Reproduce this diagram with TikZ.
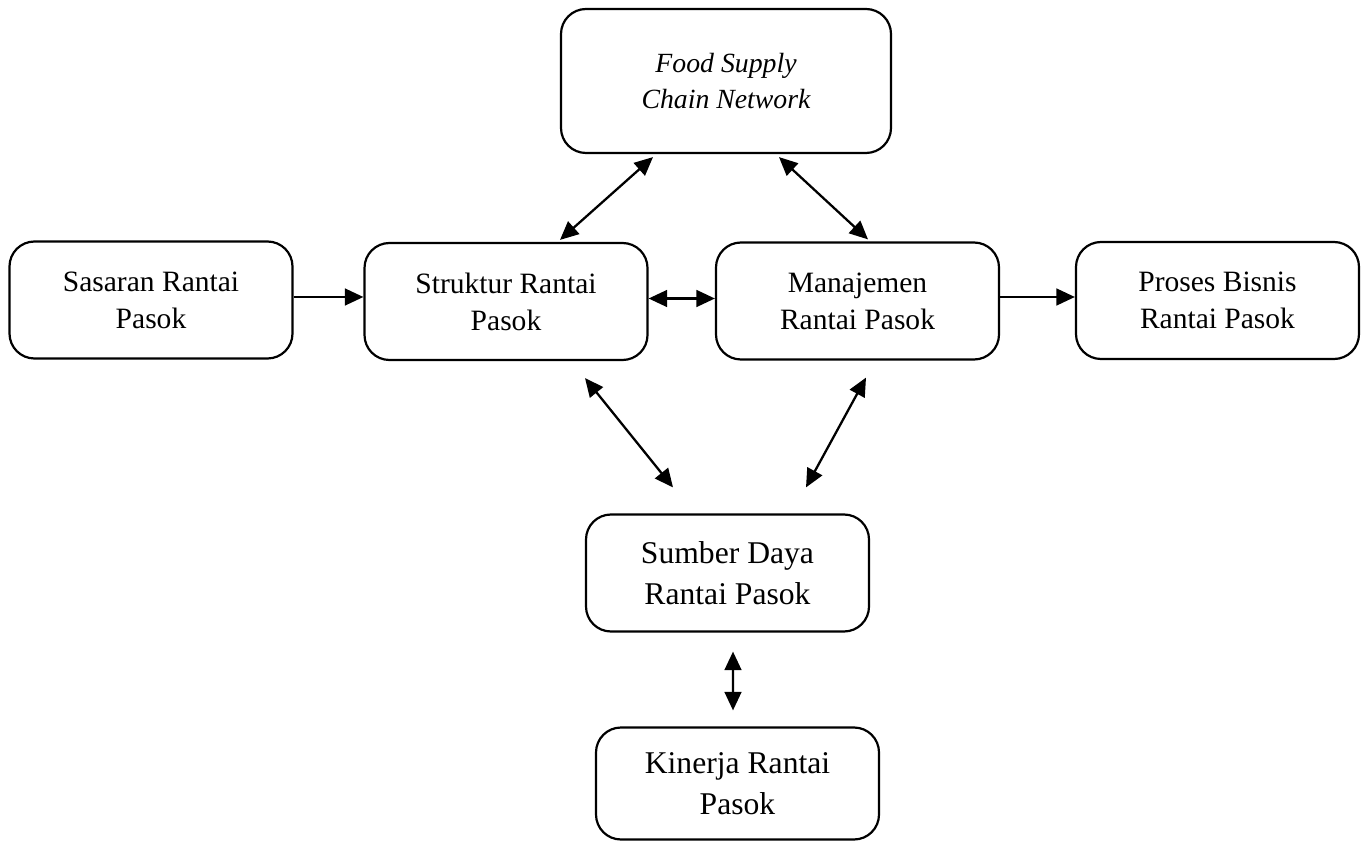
\documentclass[tikz,border=0pt]{standalone}
\usepackage{fontspec}
\setmainfont{Liberation Serif}
\usetikzlibrary{arrows.meta,positioning,calc}

\begin{document}
\begin{tikzpicture}[>={Triangle[length=10.5pt,width=9.5pt]},
    box/.style={draw,line width=1.25pt,rounded corners=0.5cm,align=center,
      minimum width=5.66cm,minimum height=2.34cm,inner sep=2pt,
      font=\fontsize{16.8}{21}\selectfont},
    bigbox/.style={box,font=\fontsize{18}{23.5}\selectfont},
    link/.style={line width=1.3pt}]
      \useasboundingbox (0,0) rectangle (27.36,16.82);
      \node[box,minimum width=6.6cm,minimum height=2.88cm,font=\fontsize{15.8}{21}\selectfont\itshape]
        (food) at (14.52,15.2) {Food Supply\\Chain Network};
      \node[box] (sasaran) at (3.02,10.82) {Sasaran Rantai\\Pasok};
      \node[box] (struktur) at (10.12,10.79) {Struktur Rantai\\Pasok};
      \node[box] (manajemen) at (17.15,10.8) {Manajemen\\Rantai Pasok};
      \node[box] (proses) at (24.35,10.81) {Proses Bisnis\\Rantai Pasok};
      \node[bigbox] (sumber) at (14.55,5.36) {Sumber Daya\\Rantai Pasok};
      \node[bigbox,minimum height=2.24cm] (kinerja) at (14.75,1.15) {Kinerja Rantai\\Pasok};
      % links to the network
      \draw[link,<->] ([xshift=-1.46cm,yshift=-0.06cm]food.south) -- ([xshift=1.08cm,yshift=0.04cm]struktur.north);
      \draw[link,<->] ([xshift=1.06cm,yshift=-0.06cm]food.south) -- ([xshift=0.21cm,yshift=0.04cm]manajemen.north);
      % middle row
      \draw[link,->] ([yshift=0.06cm]sasaran.east) -- ([yshift=0.06cm]sasaran.east -| struktur.west);
      \draw[link,<->] ([yshift=0.06cm]struktur.east) -- ([yshift=0.06cm]struktur.east -| manajemen.west);
      \draw[link,->] ([yshift=0.08cm]manajemen.east) -- ([yshift=0.08cm]manajemen.east -| proses.west);
      % links to resources
      \draw[link,<->] ([xshift=1.58cm,yshift=-0.34cm]struktur.south) -- ([xshift=-1.09cm,yshift=0.52cm]sumber.north);
      \draw[link,<->] ([xshift=0.17cm,yshift=-0.34cm]manajemen.south) -- ([xshift=1.57cm,yshift=0.52cm]sumber.north);
      \draw[link,<->] ([xshift=0.11cm,yshift=-0.38cm]sumber.south) -- ([xshift=-0.09cm,yshift=0.32cm]kinerja.north);
    \end{tikzpicture}
\end{document}
